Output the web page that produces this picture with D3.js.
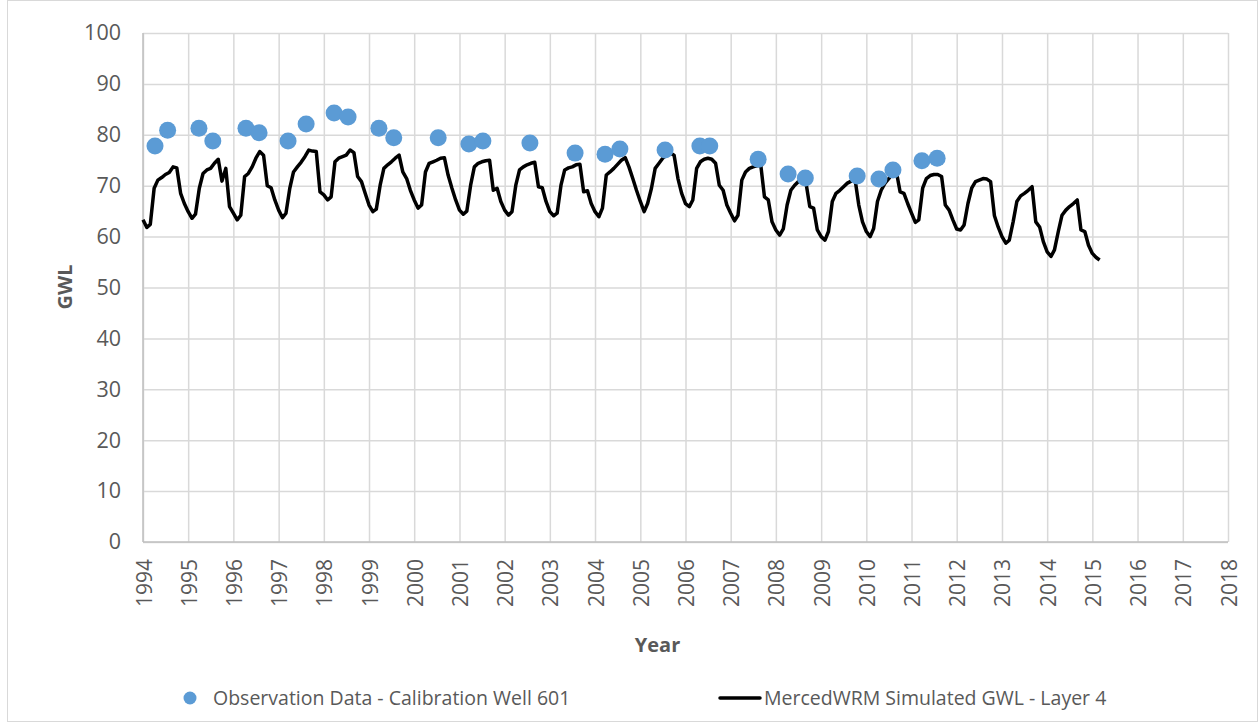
<!DOCTYPE html>
<html>
<head>
<meta charset="utf-8">
<script src="https://cdnjs.cloudflare.com/ajax/libs/d3/7.8.5/d3.min.js"></script>
<style>
  html, body { margin: 0; padding: 0; background: #ffffff; }
  svg { display: block; }
  text { font-family: "Open Sans", "Liberation Sans", sans-serif; fill: #595959; }
</style>
</head>
<body>
<svg id="chart" width="1259" height="725"></svg>
<script>
// ---- Data ----
const yearTicks = d3.range(1994, 2019);
const gwlTicks = [0, 10, 20, 30, 40, 50, 60, 70, 80, 90, 100];

// Observation data - Calibration Well 601
const obsDates = [
  "1994-04-08", "1994-07-19", "1995-03-29", "1995-07-19", "1996-04-12", "1996-07-27",
  "1997-03-18", "1997-08-11", "1998-03-25", "1998-07-16", "1999-03-22", "1999-07-20",
  "2000-07-13", "2001-03-18", "2001-07-09", "2002-07-24", "2003-07-24", "2004-03-22",
  "2004-07-20", "2005-07-20", "2006-04-27", "2006-07-16", "2007-08-11", "2008-04-09",
  "2008-08-26", "2009-10-19", "2010-04-13", "2010-08-04", "2011-03-26", "2011-07-27"
];
const obsValues = [
  77.8, 80.9, 81.3, 78.8, 81.3, 80.4,
  78.8, 82.1, 84.3, 83.5, 81.3, 79.4,
  79.4, 78.2, 78.8, 78.4, 76.4, 76.2,
  77.2, 77.0, 77.8, 77.8, 75.2, 72.3,
  71.5, 71.9, 71.3, 73.1, 74.9, 75.4
];

// MercedWRM simulated GWL - Layer 4, monthly from January 1994
const simStart = "1994-01-01";
const simValues = [
  // 1994
  63.3, 61.8, 62.4, 69.5, 71.1, 71.6, 72.2, 72.6, 73.7, 73.5, 68.5, 66.5,
  // 1995
  64.9, 63.6, 64.4, 69.5, 72.4, 73.1, 73.4, 74.4, 75.2, 70.9, 73.4, 65.9,
  // 1996
  64.6, 63.3, 64.2, 71.8, 72.4, 73.7, 75.4, 76.7, 76.0, 70.0, 69.6, 67.2,
  // 1997
  65.2, 63.7, 64.6, 69.5, 72.7, 73.7, 74.6, 75.7, 77.0, 76.8, 76.7, 68.8,
  // 1998
  68.2, 67.2, 67.8, 74.7, 75.4, 75.7, 76.0, 77.0, 76.5, 71.8, 70.8, 68.5,
  // 1999
  66.2, 64.9, 65.4, 70.1, 73.4, 74.1, 74.7, 75.4, 76.0, 72.7, 71.4, 69.1,
  // 2000
  67.2, 65.6, 66.2, 72.7, 74.4, 74.7, 75.0, 75.4, 75.5, 72.1, 69.5, 67.2,
  // 2001
  65.2, 64.4, 65.0, 70.1, 73.7, 74.4, 74.7, 74.9, 75.0, 69.1, 69.5, 66.9,
  // 2002
  65.2, 64.2, 64.9, 70.1, 73.1, 73.7, 74.1, 74.4, 74.6, 69.8, 69.6, 66.9,
  // 2003
  64.9, 64.1, 64.6, 70.1, 73.1, 73.5, 73.7, 74.1, 74.2, 68.8, 69.0, 66.5,
  // 2004
  64.9, 63.9, 65.6, 72.1, 72.7, 73.4, 74.2, 75.0, 75.5, 73.7, 71.4, 69.1,
  // 2005
  66.9, 64.9, 66.5, 69.5, 73.4, 74.4, 75.4, 76.0, 76.4, 76.0, 71.4, 68.5,
  // 2006
  66.5, 65.9, 67.2, 73.4, 74.7, 75.2, 75.4, 75.2, 74.4, 70.1, 69.1, 66.2,
  // 2007
  64.6, 63.1, 64.2, 71.1, 72.7, 73.4, 73.7, 73.9, 74.1, 67.8, 67.2, 62.9,
  // 2008
  61.3, 60.3, 61.5, 66.2, 69.1, 70.1, 70.8, 71.1, 70.5, 65.9, 65.6, 61.3,
  // 2009
  60.0, 59.3, 61.0, 66.9, 68.5, 69.1, 69.8, 70.5, 70.9, 71.4, 66.2, 62.9,
  // 2010
  61.0, 60.0, 61.6, 66.9, 69.1, 70.5, 71.4, 72.4, 72.7, 68.8, 68.5, 66.5,
  // 2011
  64.6, 62.8, 63.3, 69.5, 71.4, 72.0, 72.2, 72.2, 71.8, 66.2, 65.2, 63.3,
  // 2012
  61.5, 61.3, 62.3, 66.5, 69.5, 70.8, 71.1, 71.4, 71.3, 70.8, 64.1, 61.9,
  // 2013
  60.0, 58.7, 59.3, 62.9, 66.9, 68.0, 68.5, 69.1, 69.8, 62.9, 61.9, 59.0,
  // 2014
  57.0, 56.1, 57.4, 61.0, 64.2, 65.2, 65.9, 66.5, 67.2, 61.3, 61.0, 58.3,
  // 2015
  56.7, 55.9, 55.4
];

const seriesNames = ["Observation Data - Calibration Well 601", "MercedWRM Simulated GWL - Layer 4"];
const xTitle = "Year";
const yTitle = "GWL";

// ---- Build ----
const parse = d3.timeParse("%Y-%m-%d");
const obs = obsDates.map((d, i) => ({ date: parse(d), value: obsValues[i] }));
const start = parse(simStart);
const sim = simValues.map((v, i) => ({ date: d3.timeMonth.offset(start, i), value: v }));

const svg = d3.select("#chart");
const W = 1259, H = 725;
const plot = { left: 143, right: 1228, top: 33, bottom: 542 };
const FONT = "'Open Sans', 'Liberation Sans', sans-serif";

const x = d3.scaleTime()
  .domain([new Date(1994, 0, 1), new Date(2018, 0, 1)])
  .range([plot.left, plot.right]);
const y = d3.scaleLinear().domain([0, 100]).range([plot.bottom, plot.top]);

// outer chart border
svg.append("rect")
  .attr("x", 7.5).attr("y", 0.5).attr("width", W - 9).attr("height", H - 4)
  .attr("fill", "#fff").attr("stroke", "#d9d9d9").attr("stroke-width", 1);

// gridlines
const gridColor = "#d9d9d9";
const yGrid = svg.append("g").attr("transform", `translate(${plot.left},0)`)
  .call(d3.axisLeft(y).tickValues(gwlTicks).tickSize(-(plot.right - plot.left)).tickFormat(""));
yGrid.select(".domain").remove();
yGrid.selectAll("line").attr("stroke", gridColor).attr("stroke-width", 1.5);

const xGrid = svg.append("g").attr("transform", `translate(0,${plot.bottom})`)
  .call(d3.axisBottom(x).tickValues(yearTicks.map(yr => new Date(yr, 0, 1)))
    .tickSize(-(plot.bottom - plot.top)).tickFormat(""));
xGrid.select(".domain").remove();
xGrid.selectAll("line").attr("stroke", gridColor).attr("stroke-width", 1.5);

// axis lines
svg.append("line").attr("x1", plot.left).attr("x2", plot.left)
  .attr("y1", plot.top).attr("y2", plot.bottom).attr("stroke", "#bfbfbf").attr("stroke-width", 1.5);
svg.append("line").attr("x1", plot.left).attr("x2", plot.right)
  .attr("y1", plot.bottom).attr("y2", plot.bottom).attr("stroke", "#bfbfbf").attr("stroke-width", 1.5);

// y tick labels
const yAxis = svg.append("g").attr("transform", `translate(${plot.left},0)`)
  .call(d3.axisLeft(y).tickValues(gwlTicks).tickSize(0).tickPadding(22));
yAxis.select(".domain").remove();
yAxis.selectAll("text")
  .style("font-family", FONT)
  .style("font-size", "21.5px").attr("fill", "#595959");

// x tick labels (rotated)
const xAxis = svg.append("g").attr("transform", `translate(0,${plot.bottom})`)
  .call(d3.axisBottom(x).tickValues(yearTicks.map(yr => new Date(yr, 0, 1)))
    .tickSize(0).tickFormat(d3.timeFormat("%Y")));
xAxis.select(".domain").remove();
xAxis.selectAll("text")
  .style("font-family", FONT)
  .style("font-size", "21px").attr("fill", "#595959")
  .attr("text-anchor", "end")
  .attr("dy", null).attr("y", null)
  .attr("transform", "translate(8,17) rotate(-90)");

// axis titles
svg.append("text").attr("x", (plot.left + plot.right) / 2 - 28).attr("y", 652)
  .attr("text-anchor", "middle").style("font-size", "20px").style("font-weight", "bold")
  .text(xTitle);
svg.append("text").attr("transform", "translate(72,287) rotate(-90)")
  .attr("text-anchor", "middle").style("font-size", "20px").style("font-weight", "bold")
  .text(yTitle);

// simulated line
const line = d3.line().x(d => x(d.date)).y(d => y(d.value));
svg.append("path").datum(sim)
  .attr("d", line).attr("fill", "none").attr("stroke", "#000")
  .attr("stroke-width", 3.5).attr("stroke-linejoin", "round");

// observation dots
svg.append("g").selectAll("circle").data(obs).join("circle")
  .attr("cx", d => x(d.date)).attr("cy", d => y(d.value))
  .attr("r", 8.5).attr("fill", "#5b9bd5");

// legend
const lg = svg.append("g");
lg.append("circle").attr("cx", 190).attr("cy", 698).attr("r", 6.5).attr("fill", "#5b9bd5");
lg.append("text").attr("x", 213).attr("y", 705).style("font-size", "19.5px").text(seriesNames[0]);
lg.append("line").attr("x1", 720).attr("x2", 760).attr("y1", 698).attr("y2", 698)
  .attr("stroke", "#000").attr("stroke-width", 3.5).attr("stroke-linecap", "round");
lg.append("text").attr("x", 764).attr("y", 705).style("font-size", "19.5px").text(seriesNames[1]);
</script>
</body>
</html>
